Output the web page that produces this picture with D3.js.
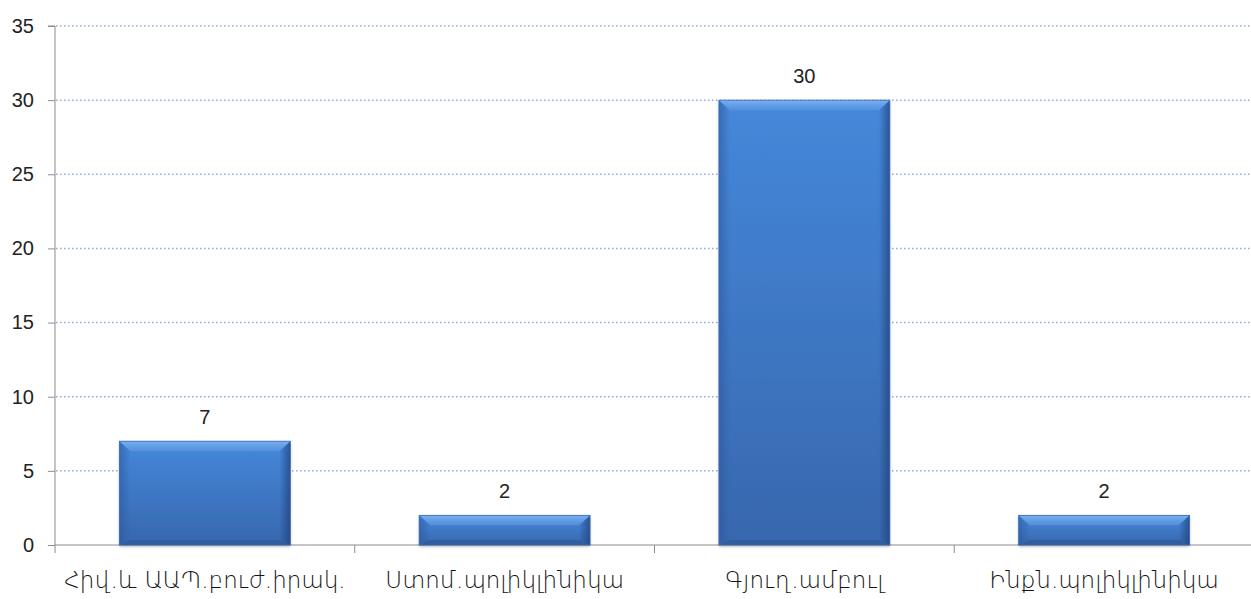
<!DOCTYPE html>
<html>
<head>
<meta charset="utf-8">
<script src="https://cdn.jsdelivr.net/npm/d3@7"></script>
<style>
  html, body { margin: 0; padding: 0; background: #fff; }
  svg { display: block; }
</style>
</head>
<body>
<svg id="chart" width="1251" height="599"></svg>
<script>
const categories = ["Հիվ.և ԱԱՊ.բուժ.իրակ.", "Ստոմ.պոլիկլինիկա", "Գյուղ.ամբուլ", "Ինքն.պոլիկլինիկա"];
const values = [7, 2, 30, 2];
const yTicks = [0, 5, 10, 15, 20, 25, 30, 35];

const W = 1251, H = 599;
const margin = { left: 55, right: 0, top: 26, bottom: 54 };
const svg = d3.select("#chart");

const x = d3.scaleBand().domain(categories).range([margin.left, 1254]).paddingInner(0.43).paddingOuter(0.215);
const y = d3.scaleLinear().domain([0, 35]).range([H - margin.bottom, margin.top]);

const defs = svg.append("defs");
const g1 = defs.append("linearGradient").attr("id", "face").attr("x1", 0).attr("y1", 0).attr("x2", 0).attr("y2", 1);
g1.append("stop").attr("offset", "0%").attr("stop-color", "#4588DA");
g1.append("stop").attr("offset", "100%").attr("stop-color", "#3767AE");
const gl = defs.append("linearGradient").attr("id", "lside").attr("x1", 0).attr("y1", 0).attr("x2", 1).attr("y2", 0);
gl.append("stop").attr("offset", "0%").attr("stop-color", "#2B5698").attr("stop-opacity", 0.55);
gl.append("stop").attr("offset", "100%").attr("stop-color", "#2B5698").attr("stop-opacity", 0);
const gr = defs.append("linearGradient").attr("id", "rside").attr("x1", 1).attr("y1", 0).attr("x2", 0).attr("y2", 0);
gr.append("stop").attr("offset", "0%").attr("stop-color", "#1E3F78").attr("stop-opacity", 0.7);
gr.append("stop").attr("offset", "100%").attr("stop-color", "#1E3F78").attr("stop-opacity", 0);
const gt = defs.append("linearGradient").attr("id", "tside").attr("x1", 0).attr("y1", 0).attr("x2", 0).attr("y2", 1);
gt.append("stop").attr("offset", "0%").attr("stop-color", "#7DB3F2").attr("stop-opacity", 0.95);
gt.append("stop").attr("offset", "100%").attr("stop-color", "#5C98E4").attr("stop-opacity", 0.6);
const f = defs.append("filter").attr("id", "shadow").attr("x", "-10%").attr("y", "-10%").attr("width", "120%").attr("height", "130%");
f.append("feDropShadow").attr("dx", 0).attr("dy", 1.5).attr("stdDeviation", 1.5).attr("flood-color", "#000").attr("flood-opacity", 0.3);

// gridlines
svg.append("g").selectAll("line").data(yTicks.filter(d => d > 0)).join("line")
  .attr("x1", margin.left + 1).attr("x2", W)
  .attr("y1", d => y(d)).attr("y2", d => y(d))
  .attr("stroke", "#8FAADC").attr("stroke-width", 1.5).attr("stroke-dasharray", "1.5,2.5");

// y axis
const yAxis = d3.axisLeft(y).tickValues(yTicks).tickSize(7).tickPadding(14);
const ya = svg.append("g").attr("transform", `translate(${margin.left},0)`).call(yAxis);
ya.select(".domain").attr("stroke", "#8C8C8C").attr("d", `M-7,${y(35)}H0V${y(0)}`);
ya.selectAll(".tick line").attr("stroke", "#8C8C8C");
ya.selectAll(".tick text").attr("font-family", "Liberation Sans, Arial, sans-serif").attr("font-size", 20).attr("fill", "#222");

// x axis
const xa = svg.append("g").attr("transform", `translate(0,${y(0)})`);
xa.append("line").attr("x1", margin.left).attr("x2", W).attr("y1", 0).attr("y2", 0).attr("stroke", "#8C8C8C");
const step = x.step();
const bounds = d3.range(categories.length + 1).map(i => margin.left + i * step);
xa.selectAll("line.t").data(bounds).join("line").attr("class", "t")
  .attr("x1", d => d).attr("x2", d => d).attr("y1", 0).attr("y2", 8).attr("stroke", "#8C8C8C");
xa.selectAll("text").data(categories).join("text")
  .attr("x", d => x(d) + x.bandwidth() / 2).attr("y", 43)
  .attr("text-anchor", "middle").attr("font-family", "DejaVu Sans, sans-serif").attr("font-weight", 300)
  .attr("font-size", 23).attr("fill", "#111")
  .text(d => d);

// bars with bevel
const bw = x.bandwidth();
const bars = svg.append("g").selectAll("g").data(categories.map((c, i) => ({ c, v: values[i] }))).join("g");
bars.each(function (d) {
  const gg = d3.select(this);
  const x0 = x(d.c), x1 = x0 + bw, y0 = y(d.v), y1 = y(0);
  const h = y1 - y0;
  const bt = Math.min(10, h / 2.5), bs = 11, bb = Math.min(5, h / 5);
  gg.append("rect").attr("x", x0).attr("y", y0).attr("width", bw).attr("height", h)
    .attr("fill", "url(#face)").attr("filter", "url(#shadow)");
  // left bevel
  gg.append("path").attr("d", `M${x0},${y0}L${x0 + bs},${y0 + bt}L${x0 + bs},${y1 - bb}L${x0},${y1}Z`)
    .attr("fill", "url(#lside)");
  // right bevel
  gg.append("path").attr("d", `M${x1},${y0}L${x1 - bs},${y0 + bt}L${x1 - bs},${y1 - bb}L${x1},${y1}Z`)
    .attr("fill", "url(#rside)");
  // bottom bevel
  gg.append("path").attr("d", `M${x0},${y1}L${x0 + bs},${y1 - bb}L${x1 - bs},${y1 - bb}L${x1},${y1}Z`)
    .attr("fill", "#2A5392").attr("opacity", 0.55);
  // top bevel
  gg.append("path").attr("d", `M${x0},${y0}L${x1},${y0}L${x1 - bs},${y0 + bt}L${x0 + bs},${y0 + bt}Z`)
    .attr("fill", "url(#tside)");
  gg.append("rect").attr("x", x0).attr("y", y0).attr("width", bw).attr("height", h)
    .attr("fill", "none").attr("stroke", "#3A69B0").attr("stroke-width", 0.8);
  gg.append("text").attr("x", x0 + bw / 2).attr("y", y0 - 17)
    .attr("text-anchor", "middle").attr("font-family", "Liberation Sans, Arial, sans-serif").attr("font-size", 20).attr("fill", "#222")
    .text(d.v);
});
</script>
</body>
</html>
